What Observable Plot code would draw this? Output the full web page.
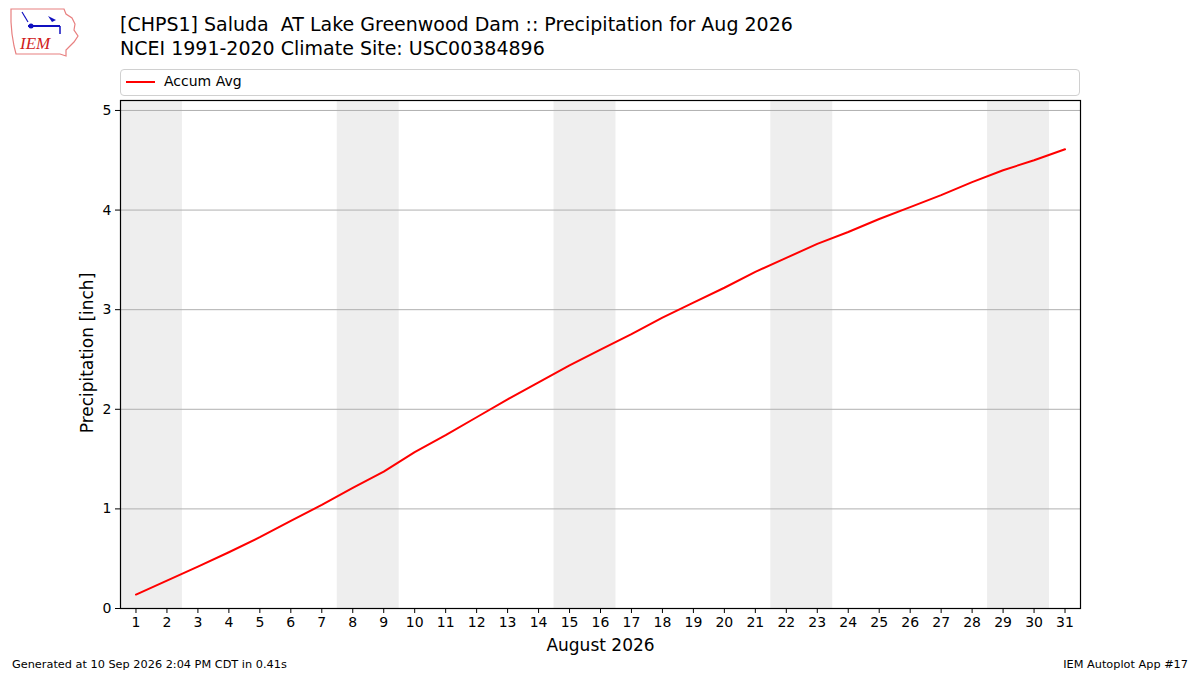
<!DOCTYPE html>
<html>
<head>
<meta charset="utf-8">
<script src="https://cdn.jsdelivr.net/npm/d3@7"></script>
<script src="https://cdn.jsdelivr.net/npm/@observablehq/plot@0.6"></script>
<style>
  html, body { margin: 0; padding: 0; background: #fff; }
  #wrap { position: relative; width: 1200px; height: 675px; overflow: hidden; font-family: "DejaVu Sans", sans-serif; color: #000; }
  #chart { position: absolute; left: 0; top: 0; }
  .t { position: absolute; white-space: pre; }
  #title1 { left: 120px; top: 13px; font-size: 19px; }
  #title2 { left: 120px; top: 37px; font-size: 19px; }
  #legend { position: absolute; left: 120px; top: 69px; width: 958px; height: 25px; border: 1px solid #d0d0d0; border-radius: 4px; background: #fff; }
  #legend .sw { position: absolute; left: 5px; top: 11px; width: 29px; height: 2px; background: #ff0000; }
  #legend .lt { position: absolute; left: 43px; top: 3px; font-size: 14px; }
  #foot1 { left: 12px; top: 658px; font-size: 11.3px; }
  #foot2 { right: 12px; top: 658px; font-size: 11.3px; }
  #ylab { left: 87px; top: 353px; font-size: 17px; transform: translate(-50%, -50%) rotate(-90deg); }
  #logo { position: absolute; left: 8px; top: 6px; }
</style>
</head>
<body>
<div id="wrap">
  <div id="chart"></div>
  <svg id="logo" width="72" height="52" viewBox="0 0 72 52">
    <path d="M3,3 L56,3 L58,8 L64,12 L67,18 L66,24 L70,30 L66,36 L62,40 L58,44 L58,50 L52,48 L8,48 L6,40 L4,28 L3,16 Z" fill="none" stroke="#e88080" stroke-width="1.2"/>
    <line x1="20" y1="20" x2="52" y2="20" stroke="#1010c0" stroke-width="2"/>
    <circle cx="23" cy="20" r="2.5" fill="#1010c0"/>
    <path d="M40,10 L48,14 L44,16 Z" fill="#1010c0"/>
    <line x1="52" y1="20" x2="52" y2="28" stroke="#1010c0" stroke-width="1.5"/>
    <path d="M14,6 L20,16" stroke="#1010c0" stroke-width="1.2" fill="none"/>
    <text x="12" y="43" font-family="Liberation Serif, serif" font-style="italic" font-size="17" fill="#d02020">IEM</text>
  </svg>
  <div class="t" id="title1">[CHPS1] Saluda  AT Lake Greenwood Dam :: Precipitation for Aug 2026</div>
  <div class="t" id="title2">NCEI 1991-2020 Climate Site: USC00384896</div>
  <div id="legend"><div class="sw"></div><div class="t lt">Accum Avg</div></div>
  <div class="t" id="ylab">Precipitation [inch]</div>
  <div class="t" id="foot1">Generated at 10 Sep 2026 2:04 PM CDT in 0.41s</div>
  <div class="t" id="foot2">IEM Autoplot App #17</div>
</div>
<script>
const days = [1,2,3,4,5,6,7,8,9,10,11,12,13,14,15,16,17,18,19,20,21,22,23,24,25,26,27,28,29,30,31];
const accumAvg = [0.14,0.28,0.42,0.565,0.716,0.88,1.04,1.21,1.375,1.57,1.74,1.92,2.10,2.27,2.44,2.60,2.755,2.92,3.07,3.22,3.38,3.52,3.66,3.78,3.91,4.03,4.15,4.28,4.40,4.50,4.61];
const weekendStarts = [1,8,15,22,29];
const yTicks = [0,1,2,3,4,5];
const xTickLabels = days;

const series = days.map((d, i) => ({day: d, value: accumAvg[i]}));
const weekends = weekendStarts.map(d => ({x1: d - 0.5, x2: d + 1.5}));

const chart = Plot.plot({
  width: 1200,
  height: 675,
  marginLeft: 120,
  marginRight: 120,
  marginTop: 100,
  marginBottom: 67,
  style: {fontFamily: "DejaVu Sans, sans-serif", fontSize: "14px", color: "#000", background: "transparent", overflow: "visible"},
  x: {domain: [0.5, 31.5]},
  y: {domain: [0, 5.1]},
  marks: [
    Plot.rectY(weekends, {x1: "x1", x2: "x2", y1: 0, y2: 5.1, fill: "#eeeeee"}),
    Plot.gridY(yTicks, {stroke: "#b0b0b0", strokeOpacity: 1, strokeWidth: 1}),
    Plot.line(series, {x: "day", y: "value", stroke: "#ff0000", strokeWidth: 2}),
    Plot.axisY(yTicks, {tickSize: 5, tickPadding: 4, fontSize: 14, label: null, stroke: "#000", tickFormat: d3.format("d")}),
    Plot.axisX(xTickLabels, {tickSize: 5, tickPadding: 4, fontSize: 14, label: null, stroke: "#000", tickFormat: d3.format("d")}),
    Plot.text(["August 2026"], {frameAnchor: "bottom", dy: 42, fontSize: 17}),
    Plot.frame({stroke: "#000", strokeWidth: 1.2})
  ]
});
document.getElementById("chart").appendChild(chart);
</script>
</body>
</html>
